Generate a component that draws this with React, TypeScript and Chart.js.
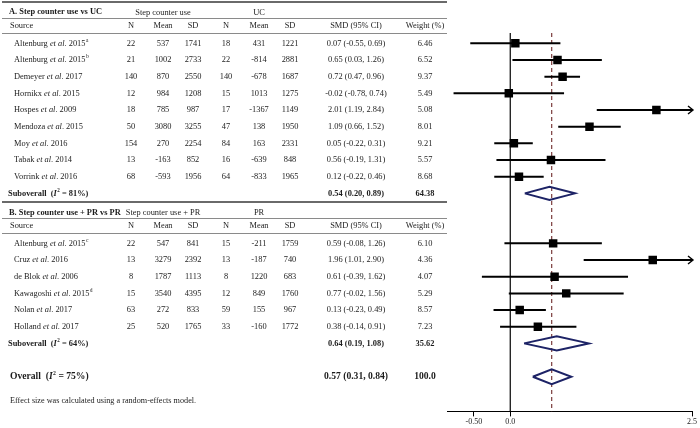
import { useEffect, useRef } from 'react';
import { Chart, registerables } from 'chart.js';
Chart.register(...registerables);

// ---------- Data: section A (Step counter use vs UC) ----------
const authorsA = ['Altenburg', 'Altenburg', 'Demeyer', 'Hornikx', 'Hospes', 'Mendoza', 'Moy', 'Tabak', 'Vorrink'];
const yearsA = ['2015', '2015', '2017', '2015', '2009', '2015', '2016', '2014', '2016'];
const supsA = ['a', 'b', '', '', '', '', '', '', ''];
const nA1 = [22, 21, 140, 12, 18, 50, 154, 13, 68];
const meanA1 = [537, 1002, 870, 984, 785, 3080, 270, -163, -593];
const sdA1 = [1741, 2733, 2550, 1208, 987, 3255, 2254, 852, 1956];
const nA2 = [18, 22, 140, 15, 17, 47, 84, 16, 64];
const meanA2 = [431, -814, -678, 1013, -1367, 138, 163, -639, -833];
const sdA2 = [1221, 2881, 1687, 1275, 1149, 1950, 2331, 848, 1965];
const smdA = [0.07, 0.65, 0.72, -0.02, 2.01, 1.09, 0.05, 0.56, 0.12];
const loA = [-0.55, 0.03, 0.47, -0.78, 1.19, 0.66, -0.22, -0.19, -0.22];
const hiA = [0.69, 1.26, 0.96, 0.74, 2.84, 1.52, 0.31, 1.31, 0.46];
const weightA = ['6.46', '6.52', '9.37', '5.49', '5.08', '8.01', '9.21', '5.57', '8.68'];
const subA = { est: 0.54, lo: 0.2, hi: 0.89, weight: '64.38', i2: 81 };

// ---------- Data: section B (Step counter use + PR vs PR) ----------
const authorsB = ['Altenburg', 'Cruz', 'de Blok', 'Kawagoshi', 'Nolan', 'Holland'];
const yearsB = ['2015', '2016', '2006', '2015', '2017', '2017'];
const supsB = ['c', '', '', 'd', '', ''];
const nB1 = [22, 13, 8, 15, 63, 25];
const meanB1 = [547, 3279, 1787, 3540, 272, 520];
const sdB1 = [841, 2392, 1113, 4395, 833, 1765];
const nB2 = [15, 13, 8, 12, 59, 33];
const meanB2 = [-211, -187, 1220, 849, 155, -160];
const sdB2 = [1759, 740, 683, 1760, 967, 1772];
const smdB = [0.59, 1.96, 0.61, 0.77, 0.13, 0.38];
const loB = [-0.08, 1.01, -0.39, -0.02, -0.23, -0.14];
const hiB = [1.26, 2.9, 1.62, 1.56, 0.49, 0.91];
const weightB = ['6.10', '4.36', '4.07', '5.29', '8.57', '7.23'];
const subB = { est: 0.64, lo: 0.19, hi: 1.08, weight: '35.62', i2: 64 };

const overall = { est: 0.57, lo: 0.31, hi: 0.84, weight: '100.0', i2: 75 };

const xTickValues = [-0.5, 0, 2.5];
const xTickLabels = ['-0.50', '0.0', '2.5'];

const sectionTitles = ['A. Step counter use vs UC', 'B. Step counter use + PR vs PR'];
const groupLabels = [['Step counter use', 'UC'], ['Step counter use + PR', 'PR']];
const colHeaders = ['N', 'Mean', 'SD', 'N', 'Mean', 'SD', 'SMD (95% CI)', 'Weight (%)'];
const footnote = 'Effect size was calculated using a random-effects model.';

const FONT = '"Liberation Serif", "Times New Roman", serif';
const TXT = '#1c1c1c';
const DIAMOND = '#1d2366';
const REFLINE = '#7a3a3a';

const X_MIN = -0.87;
const X_MAX = 2.5;

export default function App() {
  const ref = useRef<HTMLCanvasElement>(null);

  useEffect(() => {
    if (!ref.current) return;
    const rowsA = authorsA.map((_, i) => i);
    const subRowA = authorsA.length;
    const rowsB = authorsB.map((_, i) => subRowA + 3 + i);
    const subRowB = rowsB[rowsB.length - 1] + 1;
    const overallRow = subRowB + 2;
    const footRow = overallRow + 1.45;
    const Y_MIN = -2.6;
    const Y_MAX = 22.08;
    const lineTop = -0.62;

    const fmt = (e: number, l: number, h: number) => `${e.toFixed(2)} (${l.toFixed(2)}, ${h.toFixed(2)})`;

    const ciSets: any[] = [];
    const addCI = (lo: number, hi: number, y: number) =>
      ciSets.push({
        data: [{ x: lo, y }, { x: hi, y }],
        showLine: true, borderColor: '#000', borderWidth: 2, pointRadius: 0, order: 2,
      });
    rowsA.forEach((r, i) => addCI(loA[i], hiA[i], r));
    rowsB.forEach((r, i) => addCI(loB[i], hiB[i], r));

    const diamond = (d: { est: number; lo: number; hi: number }, y: number, h: number) => ({
      data: [
        { x: d.lo, y }, { x: d.est, y: y - h }, { x: d.hi, y }, { x: d.est, y: y + h }, { x: d.lo, y },
      ],
      showLine: true, borderColor: DIAMOND, borderWidth: 2, pointRadius: 0, order: 1,
      backgroundColor: '#fff', fill: false, tension: 0, borderJoinStyle: 'miter',
    });

    const squares = {
      data: [
        ...rowsA.map((r, i) => ({ x: smdA[i], y: r })),
        ...rowsB.map((r, i) => ({ x: smdB[i], y: r })),
      ],
      pointStyle: 'rect', pointRadius: 6, backgroundColor: '#000', borderColor: '#000', borderWidth: 0, order: 0,
    };

    const zeroLine = {
      data: [{ x: 0, y: lineTop }, { x: 0, y: Y_MAX }],
      showLine: true, borderColor: '#000', borderWidth: 1.2, pointRadius: 0, order: 4,
    };
    const overallLine = {
      data: [{ x: overall.est, y: lineTop }, { x: overall.est, y: Y_MAX }],
      showLine: true, borderColor: REFLINE, borderWidth: 1.2, borderDash: [4, 3], pointRadius: 0, order: 3,
    };

    const tablePlugin = {
      id: 'table',
      afterDraw(chart: any) {
        const ctx: CanvasRenderingContext2D = chart.ctx;
        const ys = chart.scales.y;
        const xs = chart.scales.x;
        const py = (v: number) => ys.getPixelForValue(v);
        const colX = [131, 163, 193, 226, 259, 290, 356, 425];
        const SZ = 8.4;
        const setFont = (size: number, bold = false, italic = false) => {
          ctx.font = `${italic ? 'italic ' : ''}${bold ? 'bold ' : ''}${size}px ${FONT}`;
        };
        ctx.save();
        ctx.fillStyle = TXT;
        ctx.textBaseline = 'middle';

        const text = (s: string, x: number, y: number, size = SZ, bold = false, italic = false, align: CanvasTextAlign = 'center') => {
          setFont(size, bold, italic);
          ctx.textAlign = align;
          ctx.fillText(s, x, y);
          ctx.textAlign = 'left';
          return ctx.measureText(s).width;
        };
        const hline = (y: number, w: number, color: string) => {
          ctx.strokeStyle = color;
          ctx.lineWidth = w;
          ctx.beginPath();
          ctx.moveTo(2, Math.round(y) + (w % 2 ? 0.5 : 0));
          ctx.lineTo(447, Math.round(y) + (w % 2 ? 0.5 : 0));
          ctx.stroke();
        };
        const name = (author: string, year: string, sup: string, x: number, y: number) => {
          let cx = x;
          cx += text(author + ' ', cx, y, SZ, false, false, 'left');
          cx += text('et al', cx, y, SZ, false, true, 'left');
          cx += text('. ' + year, cx, y, SZ, false, false, 'left');
          if (sup) text(sup, cx + 0.5, y - 3, 5.5, false, false, 'left');
        };
        const i2label = (label: string, i2: number, x: number, y: number, size: number) => {
          let cx = x;
          cx += text(label + '  (', cx, y, size, true, false, 'left');
          cx += text('I', cx, y, size, true, true, 'left');
          text('2', cx + 0.3, y - 3, size * 0.6, true, false, 'left');
          cx += size * 0.35;
          text(` = ${i2}%)`, cx, y, size, true, false, 'left');
        };

        const section = (k: number, first: number) => {
          const u = 16.66;
          hline(py(first - 41 / u), 2, '#6a6a6a');
          text(sectionTitles[k], 9, py(first - 31 / u), SZ, true, false, 'left');
          text(groupLabels[k][0], colX[1], py(first - 31 / u));
          text(groupLabels[k][1], colX[4], py(first - 31 / u));
          hline(py(first - 25.5 / u), 1, '#8a8a8a');
          text('Source', 10, py(first - 17.5 / u), SZ, false, false, 'left');
          colHeaders.forEach((h, i) => text(h, colX[i], py(first - 17.5 / u)));
          hline(py(first - 10 / u), 1, '#8a8a8a');
        };
        section(0, rowsA[0]);
        section(1, rowsB[0]);

        const rowsText = (
          rows: number[], au: string[], yr: string[], sp: string[],
          n1: number[], m1: number[], s1: number[], n2: number[], m2: number[], s2: number[],
          e: number[], l: number[], h: number[], w: string[],
        ) => {
          rows.forEach((r, i) => {
            const y = py(r);
            name(au[i], yr[i], sp[i], 14, y);
            [n1[i], m1[i], s1[i], n2[i], m2[i], s2[i]].forEach((v, j) => text(String(v), colX[j], y));
            text(fmt(e[i], l[i], h[i]), colX[6], y);
            text(w[i], colX[7], y);
          });
        };
        rowsText(rowsA, authorsA, yearsA, supsA, nA1, meanA1, sdA1, nA2, meanA2, sdA2, smdA, loA, hiA, weightA);
        rowsText(rowsB, authorsB, yearsB, supsB, nB1, meanB1, sdB1, nB2, meanB2, sdB2, smdB, loB, hiB, weightB);

        i2label('Suboverall', subA.i2, 8, py(subRowA), SZ);
        text(fmt(subA.est, subA.lo, subA.hi), colX[6], py(subRowA), SZ, true);
        text(subA.weight, colX[7], py(subRowA), SZ, true);
        i2label('Suboverall', subB.i2, 8, py(subRowB), SZ);
        text(fmt(subB.est, subB.lo, subB.hi), colX[6], py(subRowB), SZ, true);
        text(subB.weight, colX[7], py(subRowB), SZ, true);

        i2label('Overall', overall.i2, 10, py(overallRow), 9.6);
        text(fmt(overall.est, overall.lo, overall.hi), colX[6], py(overallRow), 9.6, true);
        text(overall.weight, colX[7], py(overallRow), 9.6, true);

        text(footnote, 10, py(footRow), 8.2, false, false, 'left');

        // arrows for CIs that run past the axis maximum
        const tip = xs.getPixelForValue(X_MAX) + 1;
        ctx.strokeStyle = '#000';
        ctx.lineWidth = 1.4;
        const arrows = [
          ...rowsA.filter((_, i) => hiA[i] > X_MAX),
          ...rowsB.filter((_, i) => hiB[i] > X_MAX),
        ];
        arrows.forEach((r) => {
          const y = py(r);
          ctx.beginPath();
          ctx.moveTo(tip - 5, y - 4);
          ctx.lineTo(tip, y);
          ctx.lineTo(tip - 5, y + 4);
          ctx.stroke();
        });
        ctx.restore();
      },
    };

    const chart = new Chart(ref.current, {
      type: 'scatter',
      data: {
        datasets: [
          squares,
          diamond(subA, subRowA, 0.4),
          diamond(subB, subRowB, 0.42),
          diamond(overall, overallRow, 0.45),
          ...ciSets,
          overallLine,
          zeroLine,
        ] as any,
      },
      options: {
        responsive: false,
        animation: false,
        events: [],
        layout: { autoPadding: false, padding: { left: 447, right: 8, top: 0, bottom: 0 } },
        plugins: { legend: { display: false }, tooltip: { enabled: false } },
        scales: {
          x: {
            type: 'linear',
            min: X_MIN,
            max: X_MAX,
            afterBuildTicks: (axis: any) => {
              axis.ticks = xTickValues.map((v) => ({ value: v }));
            },
            grid: { display: true, drawOnChartArea: false, drawTicks: true, tickLength: 5, color: '#000' },
            border: { display: true, color: '#000', width: 1 },
            ticks: {
              autoSkip: false,
              maxRotation: 0,
              padding: 1,
              color: TXT,
              font: { family: FONT, size: 8 },
              callback: (v: any) => {
                const idx = xTickValues.indexOf(Number(v));
                return idx >= 0 ? xTickLabels[idx] : '';
              },
            },
          },
          y: { type: 'linear', min: Y_MIN, max: Y_MAX, reverse: true, display: false },
        },
      } as any,
      plugins: [tablePlugin],
    });
    return () => chart.destroy();
  }, []);

  return (
    <div style={{ position: 'absolute', left: 0, top: 0, width: 700, height: 428, background: '#fff' }}>
      <canvas ref={ref} width={700} height={428} style={{ display: 'block' }} />
    </div>
  );
}
